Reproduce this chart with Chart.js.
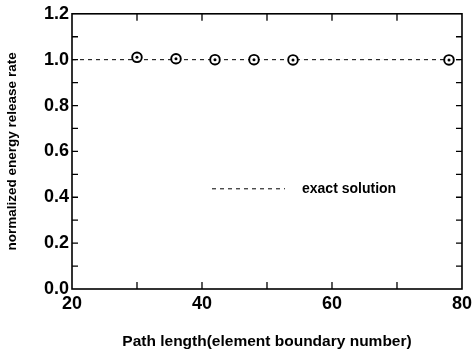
<!DOCTYPE html>
<html>
<head>
<meta charset="utf-8">
<script src="https://cdn.jsdelivr.net/npm/chart.js@4"></script>
<style>
    html, body { margin: 0; padding: 0; background: #fff; }
    #wrap { width: 476px; height: 355px; }
</style>
</head>
<body>
<div id="wrap"><canvas id="release-graph"></canvas></div>
<script>
let pathLength = [30, 36, 42, 48, 54, 78];
let releaseRate = [1.01, 1.004, 1.0, 1.0, 0.999, 0.999];
let exactX = [20, 80];
let exactY = [1.0, 1.0];
let xTicks = [20, 40, 60, 80];
let yTicks = [0.0, 0.2, 0.4, 0.6, 0.8, 1.0, 1.2];

const FONT = "'Liberation Sans', Arial, sans-serif";

function toPoints(xs, ys) {
    return xs.map((x, i) => ({ x: x, y: ys[i] }));
}

// frame, inward ticks and the little legend inside the plot
const framePlugin = {
    id: "frame",
    afterDraw(chart) {
        const ctx = chart.ctx;
        const a = chart.chartArea;
        const xs = chart.scales.x;
        const ys = chart.scales.y;
        ctx.save();
        ctx.strokeStyle = "#000";
        ctx.lineWidth = 1.6;
        ctx.strokeRect(a.left, a.top, a.right - a.left, a.bottom - a.top);

        ctx.lineWidth = 1.3;
        ctx.beginPath();
        for (let v = 30; v <= 70; v += 10) {
            const px = xs.getPixelForValue(v);
            ctx.moveTo(px, a.bottom); ctx.lineTo(px, a.bottom - 7);
            ctx.moveTo(px, a.top); ctx.lineTo(px, a.top + 7);
        }
        for (let k = 1; k <= 11; k++) {
            const py = ys.getPixelForValue(k / 10);
            ctx.moveTo(a.left, py); ctx.lineTo(a.left + 6, py);
            ctx.moveTo(a.right, py); ctx.lineTo(a.right - 6, py);
        }
        ctx.stroke();

        // legend
        const ds = chart.data.datasets[0];
        const lx = a.left + 140;
        const ly = a.top + 175;
        ctx.lineWidth = 1;
        ctx.setLineDash([4, 4]);
        ctx.beginPath();
        ctx.moveTo(lx, ly); ctx.lineTo(lx + 73, ly);
        ctx.stroke();
        ctx.setLineDash([]);
        ctx.fillStyle = "#000";
        ctx.font = "bold 14px " + FONT;
        ctx.textBaseline = "middle";
        ctx.fillText(ds.label, lx + 90, ly);
        ctx.restore();
    }
};

new Chart("release-graph", {
    type: "scatter",
    data: {
        datasets: [{
            label: "exact solution",
            data: toPoints(exactX, exactY),
            showLine: true,
            borderColor: "#000",
            borderWidth: 1,
            borderDash: [4, 4],
            pointRadius: 0,
            order: 3
        }, {
            label: "numerical",
            data: toPoints(pathLength, releaseRate),
            pointStyle: "circle",
            pointRadius: 4.8,
            borderWidth: 1.9,
            borderColor: "#000",
            backgroundColor: "#fff",
            order: 2
        }, {
            label: "numerical centre",
            data: toPoints(pathLength, releaseRate),
            pointStyle: "circle",
            pointRadius: 1.5,
            borderWidth: 0,
            backgroundColor: "#000",
            order: 1
        }]
    },
    options: {
        responsive: true,
        maintainAspectRatio: false,
        animation: false,
        layout: { padding: { top: 10, right: 10, bottom: 4, left: 0 } },
        plugins: {
            legend: { display: false },
            tooltip: { enabled: false }
        },
        scales: {
            x: {
                type: "linear",
                min: 20,
                max: 80,
                afterBuildTicks: (s) => { s.ticks = xTicks.map(v => ({ value: v })); },
                afterFit: (s) => { s.height = 62; },
                grid: { display: false, drawTicks: false },
                border: { display: false },
                ticks: {
                    color: "#000",
                    padding: 4,
                    font: { family: FONT, size: 18, weight: "bold" }
                },
                title: {
                    display: true,
                    text: "Path length(element boundary number)",
                    color: "#000",
                    font: { family: FONT, size: 15.5, weight: "bold" },
                    padding: { top: 12, bottom: 0 }
                }
            },
            y: {
                type: "linear",
                min: 0,
                max: 1.2,
                afterBuildTicks: (s) => { s.ticks = yTicks.map(v => ({ value: v })); },
                afterFit: (s) => { s.width = 72; },
                grid: { display: false, drawTicks: false },
                border: { display: false },
                ticks: {
                    color: "#000",
                    padding: 3,
                    font: { family: FONT, size: 18, weight: "bold" },
                    callback: (v) => v.toFixed(1)
                },
                title: {
                    display: true,
                    text: "normalized energy release rate",
                    color: "#000",
                    font: { family: FONT, size: 13.5, weight: "bold" },
                    padding: { top: 4, bottom: 0 }
                }
            }
        }
    },
    plugins: [framePlugin]
});
</script>
</body>
</html>
